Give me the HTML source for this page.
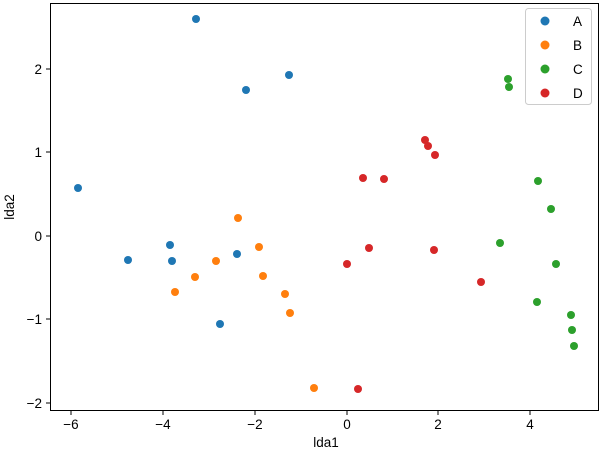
<!DOCTYPE html>
<html><head><meta charset="utf-8"><style>body{margin:0;background:#fff}svg{display:block}text{font-family:"Liberation Sans","DejaVu Sans",sans-serif;font-size:13.5px;fill:#000}</style></head>
<body>
<svg width="600" height="452" viewBox="0 0 600 452">
<rect x="50.5" y="3.5" width="548" height="407" fill="none" stroke="#000" stroke-width="1"/>
<g stroke="#000" stroke-width="1">
<line x1="71" y1="410.5" x2="71" y2="415"/><line x1="163" y1="410.5" x2="163" y2="415"/><line x1="255" y1="410.5" x2="255" y2="415"/><line x1="347" y1="410.5" x2="347" y2="415"/><line x1="438" y1="410.5" x2="438" y2="415"/><line x1="530" y1="410.5" x2="530" y2="415"/>
<line x1="46" y1="69" x2="50.5" y2="69"/><line x1="46" y1="152" x2="50.5" y2="152"/><line x1="46" y1="236" x2="50.5" y2="236"/><line x1="46" y1="319" x2="50.5" y2="319"/><line x1="46" y1="403" x2="50.5" y2="403"/>
</g>
<g text-anchor="middle">
<text x="71" y="429">−6</text><text x="163" y="429">−4</text><text x="255" y="429">−2</text><text x="347" y="429">0</text><text x="438" y="429">2</text><text x="530" y="429">4</text>
<text x="326" y="447">lda1</text>
</g>
<g text-anchor="end">
<text x="42" y="74">2</text><text x="42" y="157">1</text><text x="42" y="241">0</text><text x="42" y="324">−1</text><text x="42" y="408">−2</text>
</g>
<text x="14" y="207" text-anchor="middle" transform="rotate(-90 14 207)">lda2</text>
<g fill="#1f77b4"><circle cx="196" cy="19" r="4"/><circle cx="289" cy="75" r="4"/><circle cx="246" cy="90" r="4"/><circle cx="78" cy="188" r="4"/><circle cx="170" cy="245" r="4"/><circle cx="128" cy="260" r="4"/><circle cx="172" cy="261" r="4"/><circle cx="237" cy="254" r="4"/><circle cx="220" cy="324" r="4"/></g>
<g fill="#ff7f0e"><circle cx="238" cy="218" r="4"/><circle cx="259" cy="247" r="4"/><circle cx="216" cy="261" r="4"/><circle cx="195" cy="277" r="4"/><circle cx="263" cy="276" r="4"/><circle cx="175" cy="292" r="4"/><circle cx="285" cy="294" r="4"/><circle cx="290" cy="313" r="4"/><circle cx="314" cy="388" r="4"/></g>
<g fill="#2ca02c"><circle cx="508" cy="79" r="4"/><circle cx="509" cy="87" r="4"/><circle cx="538" cy="181" r="4"/><circle cx="551" cy="209" r="4"/><circle cx="500" cy="243" r="4"/><circle cx="556" cy="264" r="4"/><circle cx="537" cy="302" r="4"/><circle cx="571" cy="315" r="4"/><circle cx="572" cy="330" r="4"/><circle cx="574" cy="346" r="4"/></g>
<g fill="#d62728"><circle cx="425" cy="140" r="4"/><circle cx="428" cy="146" r="4"/><circle cx="435" cy="155" r="4"/><circle cx="363" cy="178" r="4"/><circle cx="384" cy="179" r="4"/><circle cx="369" cy="248" r="4"/><circle cx="347" cy="264" r="4"/><circle cx="434" cy="250" r="4"/><circle cx="481" cy="282" r="4"/><circle cx="358" cy="389" r="4"/></g>
<rect x="525.5" y="8.5" width="66" height="96" rx="3" fill="#fff" fill-opacity="0.8" stroke="#ccc"/>
<circle cx="545" cy="21" r="4.5" fill="#1f77b4"/><text x="573" y="26">A</text>
<circle cx="545" cy="45" r="4.5" fill="#ff7f0e"/><text x="573" y="50">B</text>
<circle cx="545" cy="69" r="4.5" fill="#2ca02c"/><text x="573" y="74">C</text>
<circle cx="545" cy="93" r="4.5" fill="#d62728"/><text x="573" y="98">D</text>
</svg>
</body></html>
